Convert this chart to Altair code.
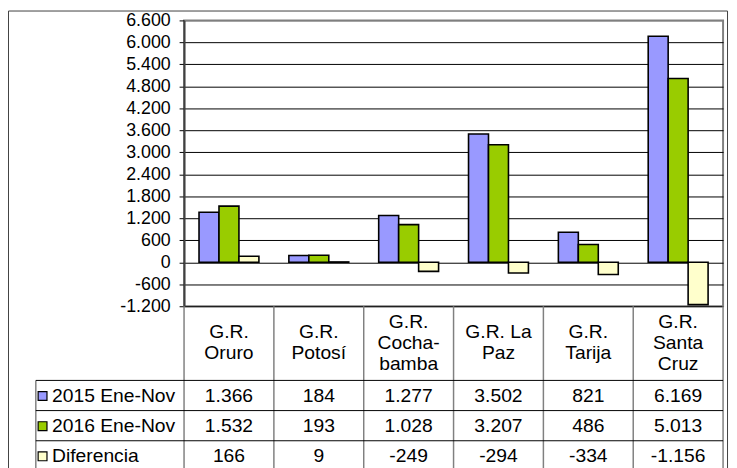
import altair as alt
import pandas as pd

# ---------------- data ----------------
regions = ["Oruro", "Potosí", "Cochabamba", "La Paz", "Tarija", "Santa Cruz"]
header_labels = ["G.R.\nOruro", "G.R.\nPotosí", "G.R.\nCocha-\nbamba",
                 "G.R. La\nPaz", "G.R.\nTarija", "G.R.\nSanta\nCruz"]
series = ["2015 Ene-Nov", "2016 Ene-Nov", "Diferencia"]
v2015 = [1366, 184, 1277, 3502, 821, 6169]
v2016 = [1532, 193, 1028, 3207, 486, 5013]
vdiff = [166, 9, -249, -294, -334, -1156]
colors = ["#9999FF", "#99CC00", "#FFFFCC"]
y_ticks = [-1200, -600, 0, 600, 1200, 1800, 2400, 3000, 3600,
           4200, 4800, 5400, 6000, 6600]

# ---------------- layout constants ----------------
FONT = "Liberation Sans"
FS_AXIS = 18
FS_TAB = 19.5
LH = 21
W, H = 545, 289
NCOL = len(regions)
HEADER_H = 75
HEADER_MID = 37
ROW_H = 30.5
TABLE_H = 175
LABEL_LEFT = -1.65      # left edge of the row-label column (column units)
SQUARE_X = -1.575
TEXT_X = -1.47


def fmt(v):
    s = f"{abs(v):,}".replace(",", ".")
    return ("-" if v < 0 else "") + s


values = [v2015, v2016, vdiff]

bars_df = pd.DataFrame([
    {"region": r, "series": s, "value": vals[i]}
    for s, vals in zip(series, values)
    for i, r in enumerate(regions)
])

cells_df = pd.DataFrame([
    {"tx": i + 0.5, "ty": HEADER_H + ROW_H * (k + 0.5) + 0.5, "text": fmt(vals[i])}
    for k, vals in enumerate(values)
    for i in range(NCOL)
])

header_df = pd.DataFrame([
    {"tx": i + 0.5,
     "ty": HEADER_MID - (lab.count("\n")) * LH / 2,
     "text": lab}
    for i, lab in enumerate(header_labels)
])

rowlab_df = pd.DataFrame([
    {"tx": TEXT_X, "sx": SQUARE_X, "ty": HEADER_H + ROW_H * (k + 0.5) + 0.5, "series": s}
    for k, s in enumerate(series)
])

hlines_df = pd.DataFrame([
    {"tx": LABEL_LEFT, "tx2": NCOL, "ty": HEADER_H + ROW_H * k}
    for k in range(4)
])

vlines_df = pd.DataFrame(
    [{"tx": i, "ty": 0, "ty2": TABLE_H} for i in range(NCOL + 1)]
    + [{"tx": LABEL_LEFT, "ty": HEADER_H, "ty2": TABLE_H}]
)

frame_df = pd.DataFrame([{"tx": -177.5 / (W / NCOL), "tx2": 549.5 / (W / NCOL),
                          "ty": -298.5, "ty2": TABLE_H + 20}])

# ---------------- scales ----------------
TX = alt.Scale(domain=[0, NCOL], range=[0, W], nice=False, zero=False)
TY = alt.Scale(domain=[0, TABLE_H], range=[H, H + TABLE_H], nice=False, zero=False)
COLOR = alt.Scale(domain=series, range=colors)

bars = alt.Chart(bars_df).mark_bar(stroke="black", strokeWidth=1.6).encode(
    x=alt.X("region:N", sort=regions,
            scale=alt.Scale(domain=regions, paddingInner=0, paddingOuter=0),
            axis=None),
    xOffset=alt.XOffset("series:N", sort=series,
                        scale=alt.Scale(domain=series, paddingInner=0, paddingOuter=0.75)),
    y=alt.Y("value:Q",
            scale=alt.Scale(domain=[-1200, 6600], nice=False),
            axis=alt.Axis(values=y_ticks, title=None,
                          labelExpr="replace(replace(format(datum.value, ','), ',', '.'), '\u2212', '-')",
                          labelFont=FONT, labelFontSize=FS_AXIS, labelColor="black",
                          labelPadding=9,
                          grid=True,
                          gridColor=alt.condition("datum.value == 6600",
                                                  alt.value("#808080"),
                                                  alt.value("black")),
                          gridWidth=1,
                          domainColor="#404040", domainWidth=2,
                          tickColor="black", tickSize=5, tickWidth=1)),
    color=alt.Color("series:N", scale=COLOR, legend=None),
)

frame = alt.Chart(frame_df).mark_rect(fill="white", fillOpacity=0,
                                      stroke="#404040", strokeWidth=1).encode(
    x=alt.X("tx:Q", scale=TX, axis=None), x2="tx2:Q",
    y=alt.Y("ty:Q", scale=TY, axis=None), y2="ty2:Q",
)

hlines = alt.Chart(hlines_df).mark_rule(color="black", strokeWidth=1).encode(
    x=alt.X("tx:Q", scale=TX, axis=None), x2="tx2:Q",
    y=alt.Y("ty:Q", scale=TY, axis=None),
)

vlines = alt.Chart(vlines_df).mark_rule(color="#808080", strokeWidth=1.5).encode(
    x=alt.X("tx:Q", scale=TX, axis=None),
    y=alt.Y("ty:Q", scale=TY, axis=None), y2="ty2:Q",
)

header = alt.Chart(header_df).mark_text(
    font=FONT, fontSize=FS_TAB, color="black", lineBreak="\n", lineHeight=LH,
    align="center", baseline="middle").encode(
    x=alt.X("tx:Q", scale=TX, axis=None),
    y=alt.Y("ty:Q", scale=TY, axis=None),
    text="text:N",
)

cells = alt.Chart(cells_df).mark_text(
    font=FONT, fontSize=FS_TAB, color="black", align="center", baseline="middle").encode(
    x=alt.X("tx:Q", scale=TX, axis=None),
    y=alt.Y("ty:Q", scale=TY, axis=None),
    text="text:N",
)

squares = alt.Chart(rowlab_df).mark_square(size=80, stroke="black", strokeWidth=1.2,
                                           opacity=1).encode(
    x=alt.X("sx:Q", scale=TX, axis=None),
    y=alt.Y("ty:Q", scale=TY, axis=None),
    fill=alt.Fill("series:N", scale=COLOR, legend=None),
)

rowtext = alt.Chart(rowlab_df).mark_text(
    font=FONT, fontSize=FS_TAB, color="black", align="left", baseline="middle").encode(
    x=alt.X("tx:Q", scale=TX, axis=None),
    y=alt.Y("ty:Q", scale=TY, axis=None),
    text="series:N",
)

chart = alt.layer(frame, bars, vlines, hlines, header, cells, squares, rowtext).resolve_scale(
    x="independent", y="independent", color="independent", fill="independent"
).properties(
    width=W, height=H,
    autosize=alt.AutoSizeParams(type="none"),
    padding={"left": 178, "top": 10, "right": 6, "bottom": 161},
    background="white",
).configure_view(stroke="#808080", strokeWidth=2)

chart.save("out.html", embed_options={"renderer": "svg", "actions": False})
